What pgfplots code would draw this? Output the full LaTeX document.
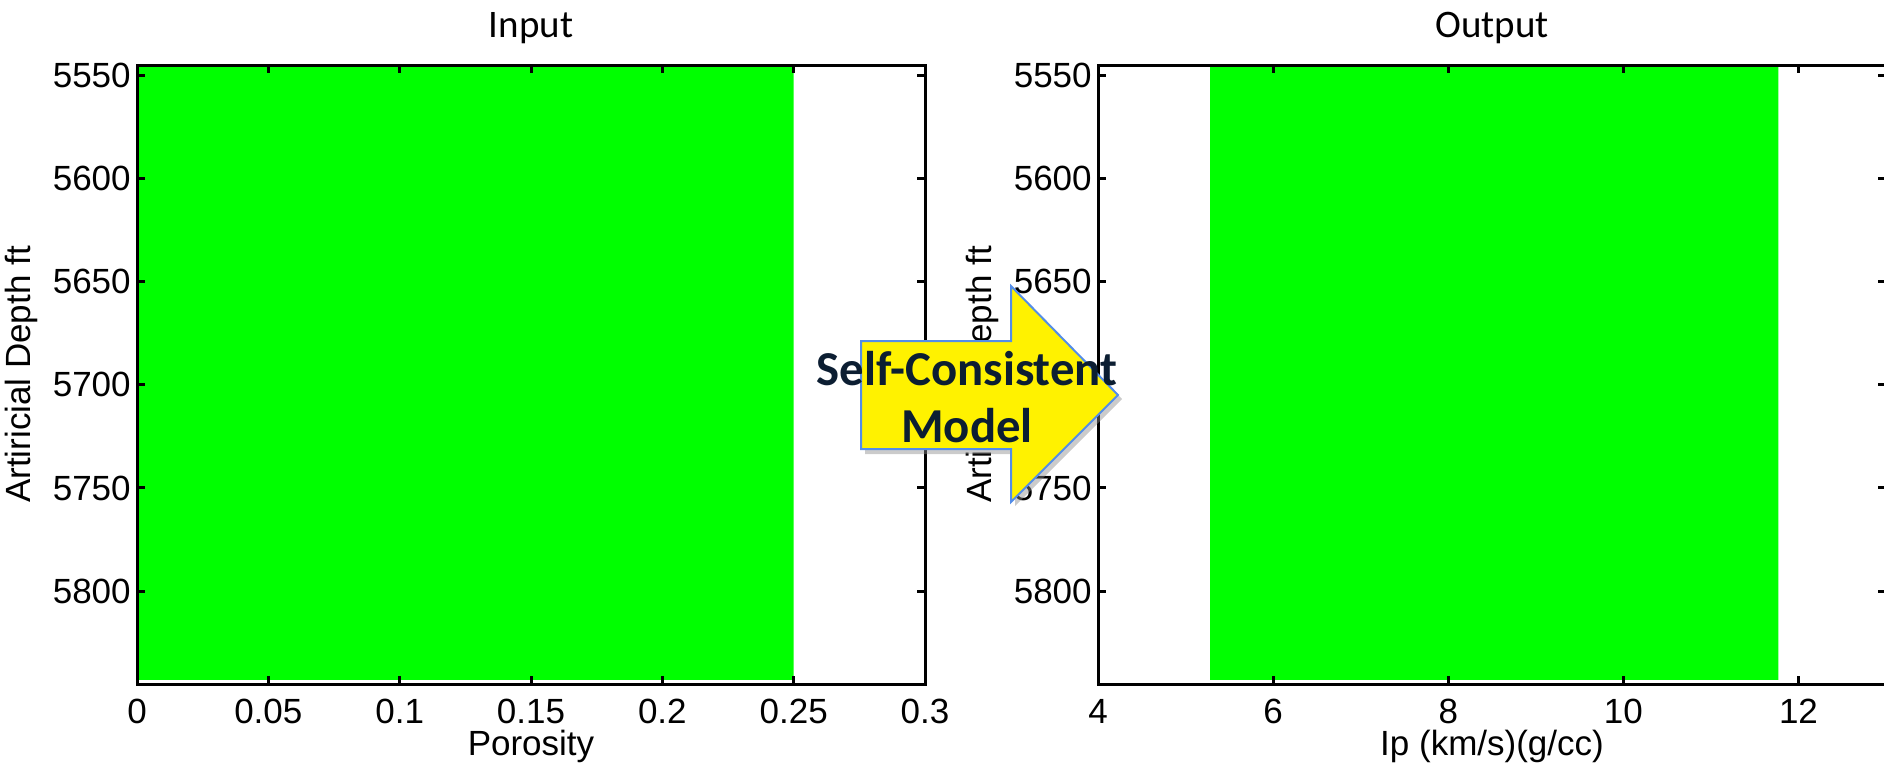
\documentclass[border=0pt]{standalone}
\usepackage{pgfplots}
\pgfplotsset{compat=1.18}
\usepackage{fontspec}
\setmainfont{Liberation Sans}
\newfontfamily\carlito{Carlito}
\definecolor{matgreen}{RGB}{0,255,0}
\definecolor{arrowblue}{RGB}{84,141,232}
\definecolor{navytext}{RGB}{12,30,50}
\tikzset{ttl/.style={anchor=base, inner sep=0pt, font=\carlito\fontsize{15.6}{18}\selectfont}}
\pgfplotsset{
  matstyle/.style={
    scale only axis,
    width=315.2pt, height=247.6pt,
    anchor=south west,
    axis on top,
    clip=false,
    y dir=reverse,
    ymin=5545, ymax=5845,
    ytick={5550,5600,5650,5700,5750,5800},
    tick align=inside,
    major tick length=3.2pt,
    axis line style={line width=1.2pt},
    every tick/.style={line width=1.2pt, black},
    tick label style={font=\fontsize{14}{16}\selectfont},
    label style={font=\fontsize{14}{16}\selectfont},
    /pgf/number format/assume math mode=true,
    /pgf/number format/1000 sep={},
    yticklabel style={xshift=1pt},
    xticklabel style={yshift=-2.5pt},
    xlabel style={at={(axis description cs:0.5,-0.1147)}, anchor=base},
    ylabel style={at={(axis description cs:-0.1472,0.5)}, anchor=center},
    ylabel={Artiricial Depth ft},
  },
}
\begin{document}
\begin{tikzpicture}
\useasboundingbox (0,0) rectangle (753.6pt,308pt);
\begin{axis}[matstyle, at={(54.8pt,34.4pt)},
  xmin=0, xmax=0.3,
  xtick={0,0.05,0.1,0.15,0.2,0.25,0.3},
  xticklabels={0,0.05,0.1,0.15,0.2,0.25,0.3},
  xlabel={Porosity}]
\addplot[draw=none, fill=matgreen] coordinates {(0,5545) (0.25,5545) (0.25,5843) (0,5843) (0,5545)};
\node[ttl] at (axis description cs:0.5,1.0452) {Input};
\end{axis}
\begin{axis}[matstyle, at={(439.2pt,34.4pt)},
  xmin=4, xmax=13,
  xtick={4,6,8,10,12},
  xlabel={Ip (km/s)(g/cc)}]
\addplot[draw=none, fill=matgreen] coordinates {(5.28,5545) (11.77,5545) (11.77,5843) (5.28,5843) (5.28,5545)};
\node[ttl] at (axis description cs:0.5,1.0452) {Output};
\end{axis}
% arrow annotation (px coordinates scaled by 0.4pt)
\begin{scope}[x=0.4pt, y=0.4pt]
\fill[black!45, opacity=0.45] (865,316) -- (865,424) -- (1015,424) -- (1015,480) -- (1122,371) -- (1015,264) -- (1015,316) -- cycle;
\draw[arrowblue, line width=0.8pt, fill=yellow] (861,321) -- (861,429) -- (1011,429) -- (1011,484) -- (1118,375) -- (1011,268) -- (1011,321) -- cycle;
\node[anchor=base, inner sep=0pt, text=navytext, font=\carlito\bfseries\fontsize{19.5}{22}\selectfont] at (967,385) {Self-Consistent};
\node[anchor=base, inner sep=0pt, text=navytext, font=\carlito\bfseries\fontsize{19.5}{22}\selectfont] at (967,328) {Model};
\end{scope}
\end{tikzpicture}
\end{document}
